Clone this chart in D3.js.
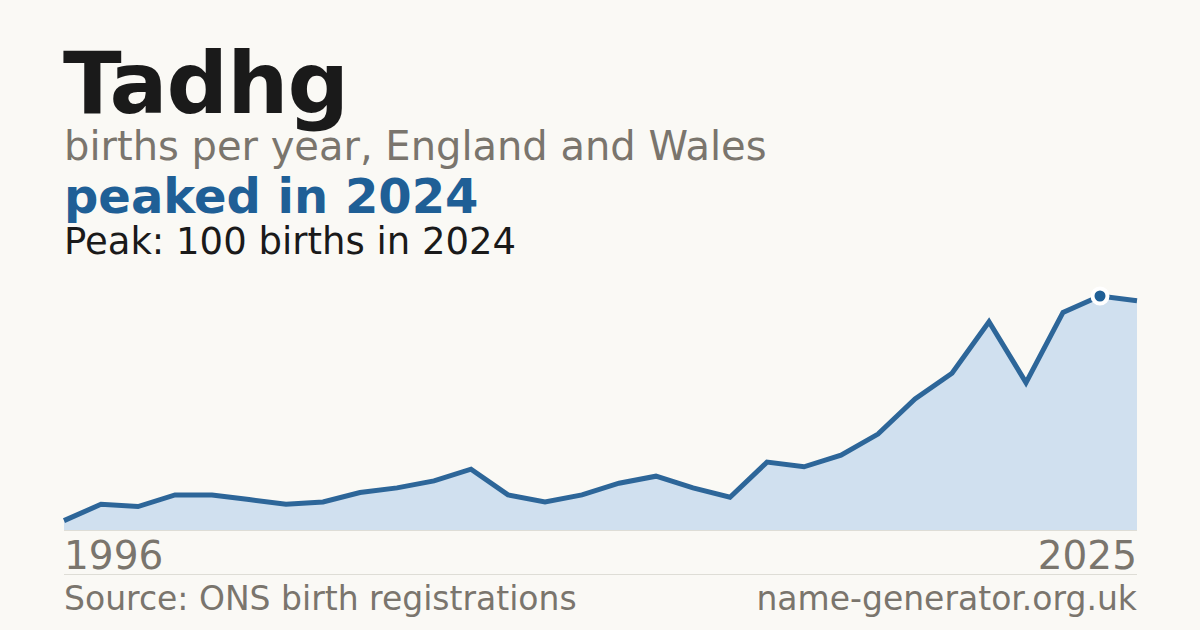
<!DOCTYPE html>
<html>
<head>
<meta charset="utf-8">
<script src="https://cdn.jsdelivr.net/npm/d3@7"></script>
<style>
  html, body { margin: 0; padding: 0; background: #faf9f5; }
  svg { display: block; font-family: "DejaVu Sans", sans-serif; }
</style>
</head>
<body>
<div id="chart"></div>
<script>
const years = d3.range(1996, 2026);
const births = [4, 11, 10, 15, 15, 13, 11, 12, 16, 18, 21, 26, 15, 12, 15, 20, 23, 18, 14, 29,
                27, 32, 41, 56, 67, 89, 63, 93, 100, 98];
const nameText = 'Tadhg';
const subtitleText = 'births per year, England and Wales';
const headlineText = 'peaked in 2024';
const peakText = 'Peak: 100 births in 2024';
const sourceText = 'Source: ONS birth registrations';
const siteText = 'name-generator.org.uk';

const W = 1200, H = 630;
const plotLeft = 64, plotRight = 1137, plotTop = 296, plotBottom = 530;
const blue = '#1f5f96';
const grey = '#7a756d';

const data = years.map((y, i) => ({ year: y, value: births[i] }));
const peak = data.reduce((a, b) => (b.value > a.value ? b : a));

const svg = d3.select('#chart').append('svg')
    .attr('width', W)
    .attr('height', H);

svg.append('rect').attr('width', W).attr('height', H).attr('fill', '#faf9f5');

const x = d3.scaleLinear().domain(d3.extent(years)).range([plotLeft, plotRight]);
const y = d3.scaleLinear().domain([0, peak.value]).range([plotBottom, plotTop]);

// header
svg.append('text')
    .attr('x', 63).attr('y', 113)
    .attr('font-size', 86).attr('font-weight', 'bold')
    .attr('letter-spacing', -1)
    .attr('fill', '#1a1a1a')
    .text(nameText);

svg.append('text')
    .attr('x', 64).attr('y', 160)
    .attr('font-size', 40)
    .attr('fill', grey)
    .text(subtitleText);

svg.append('text')
    .attr('x', 64).attr('y', 213)
    .attr('font-size', 48).attr('font-weight', 'bold')
    .attr('fill', blue)
    .text(headlineText);

svg.append('text')
    .attr('x', 64).attr('y', 254)
    .attr('font-size', 37)
    .attr('fill', '#1a1a1a')
    .text(peakText);

// area + line
svg.append('path')
    .datum(data)
    .attr('fill', '#d0e0ef')
    .attr('d', d3.area().x(d => x(d.year)).y0(y(0)).y1(d => y(d.value)));

svg.append('path')
    .datum(data)
    .attr('fill', 'none')
    .attr('stroke', '#2d6699')
    .attr('stroke-width', 5)
    .attr('stroke-linejoin', 'miter')
    .attr('d', d3.line().x(d => x(d.year)).y(d => y(d.value)));

svg.append('line')
    .attr('x1', plotLeft).attr('x2', plotRight)
    .attr('y1', plotBottom + 0.5).attr('y2', plotBottom + 0.5)
    .attr('stroke', '#deddd6').attr('stroke-width', 1);

svg.append('circle')
    .attr('cx', x(peak.year)).attr('cy', y(peak.value))
    .attr('r', 7.5)
    .attr('fill', blue)
    .attr('stroke', '#fff').attr('stroke-width', 4);

// x labels
const xAxis = svg.append('g').attr('font-size', 39).attr('fill', grey);
xAxis.append('text')
    .attr('x', x(years[0])).attr('y', 569)
    .text(years[0]);
xAxis.append('text')
    .attr('x', x(years[years.length - 1])).attr('y', 569)
    .attr('text-anchor', 'end')
    .text(years[years.length - 1]);

svg.append('line')
    .attr('x1', plotLeft).attr('x2', plotRight)
    .attr('y1', 574.5).attr('y2', 574.5)
    .attr('stroke', '#deddd6').attr('stroke-width', 1);

// footer
svg.append('text')
    .attr('x', 64).attr('y', 610)
    .attr('font-size', 33).attr('fill', grey)
    .text(sourceText);
svg.append('text')
    .attr('x', plotRight).attr('y', 610)
    .attr('text-anchor', 'end')
    .attr('font-size', 33).attr('fill', grey)
    .text(siteText);
</script>
</body>
</html>
